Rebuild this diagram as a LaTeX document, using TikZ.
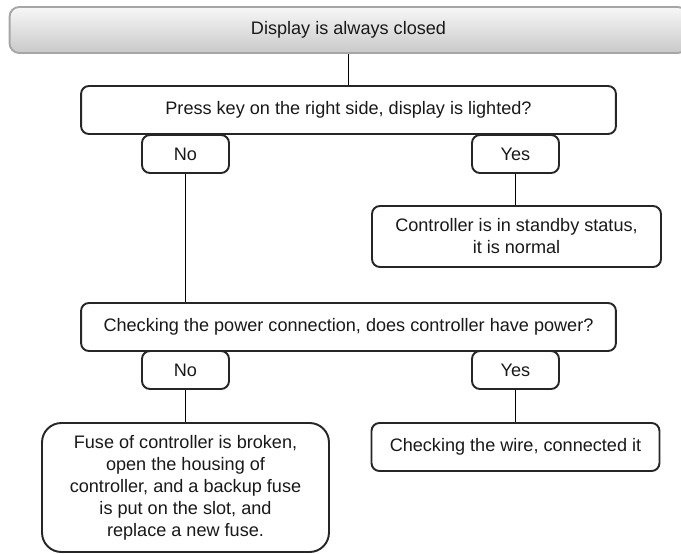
\documentclass[tikz,border=0pt]{standalone}
\usepackage{fontspec}
\setmainfont{Liberation Sans}
\definecolor{edgegray}{HTML}{262626}

\begin{document}
\begin{tikzpicture}[x=0.02cm, y=-0.02cm, line width=1.1pt,
  every node/.style={font=\fontsize{10.3}{12.5}\selectfont, text=black!90, inner sep=0pt, align=center},
  stepbox/.style={draw=edgegray, fill=white, rounded corners=4.5pt},
  answer/.style={stepbox, minimum width=1.74cm, minimum height=0.76cm},
  question/.style={stepbox, minimum width=10.7cm, minimum height=0.96cm},
  titlebox/.style={draw=gray!70, rounded corners=5.5pt, top color=gray!6, bottom color=gray!42},]
\useasboundingbox (0,0) rectangle (681,554);
\node[titlebox, minimum width=13.56cm, minimum height=0.92cm] (start) at (348.5,30) {Display is always closed};
\node[question] (q1) at (348.5,110) {Press key on the right side, display is lighted?};
\node[answer] (no1) at (185.5,154) {No};
\node[answer] (yes1) at (515.5,154) {Yes};
\node[stepbox, minimum width=5.78cm, minimum height=1.22cm] (standby) at (516.5,236.5) {Controller is in standby status,\\ it is normal};
\node[question] (q2) at (348.5,327) {Checking the power connection, does controller have power?};
\node[answer] (no2) at (185.5,370) {No};
\node[answer] (yes2) at (515.5,370) {Yes};
\node[stepbox, rounded corners=11pt, minimum width=5.74cm, minimum height=2.58cm] (fuse) at (185.5,487.5) {Fuse of controller is broken,\\ open the housing of\\ controller, and a backup fuse\\ is put on the slot, and\\ replace a new fuse.};
\node[stepbox, minimum width=5.76cm, minimum height=0.96cm] (wire) at (515.5,447) {Checking the wire, connected it};
 \draw (start)--(q1);
 \draw (no1)--(no1 |- q2.north);
 \draw (yes1)--(yes1 |- standby.north);
 \draw (no2)--(no2 |- fuse.north);
 \draw (yes2)--(yes2 |- wire.north);
\end{tikzpicture}
\end{document}
